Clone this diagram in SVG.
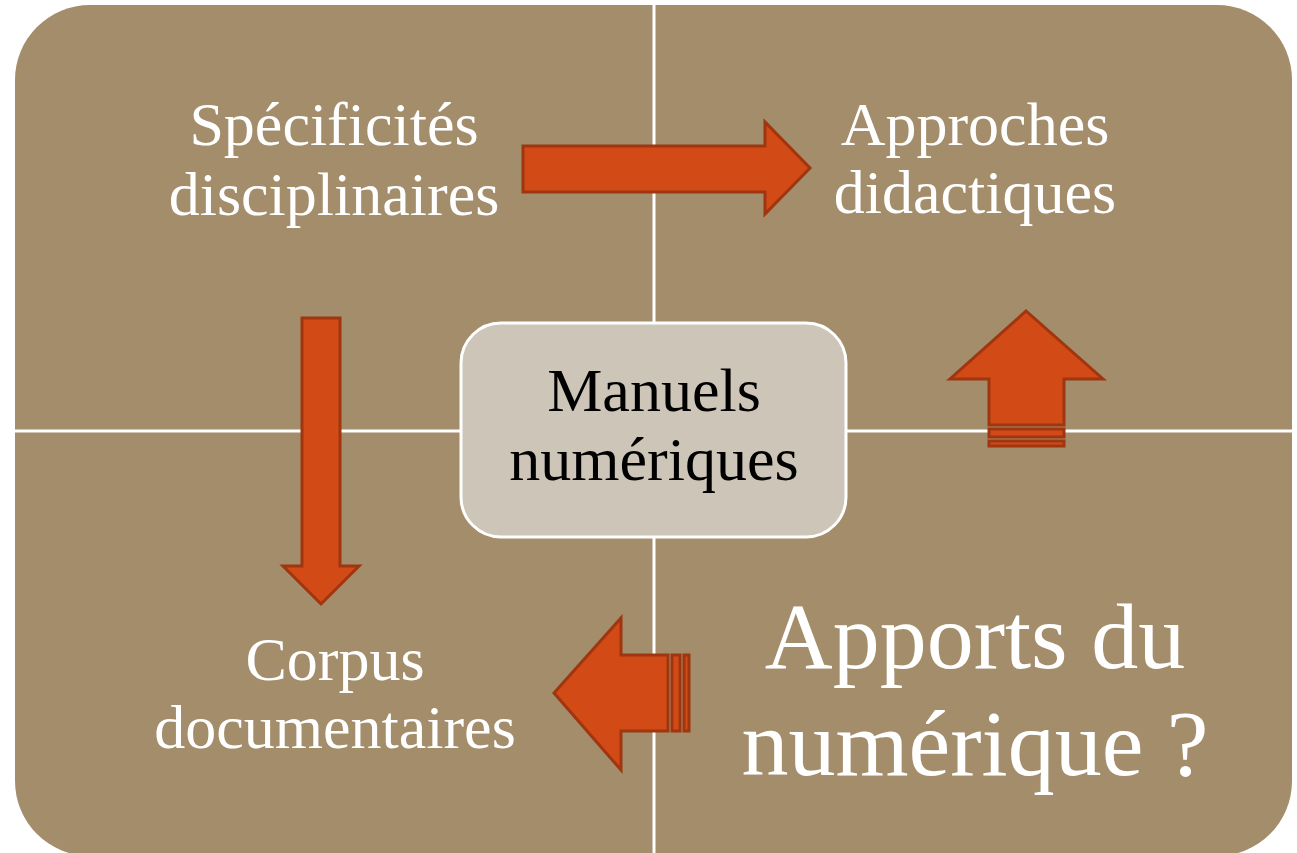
<svg xmlns="http://www.w3.org/2000/svg" width="1297" height="853" viewBox="0 0 1297 853">
<style>
.arrow{fill:#D24A16;stroke:#A0360F;stroke-width:3;stroke-linejoin:miter}
.lbl{font-family:"Liberation Serif",serif;fill:#fff;text-anchor:middle}
.ctr{font-family:"Liberation Serif",serif;fill:#000;text-anchor:middle}
.div{stroke:#fff;stroke-width:3}
</style>
<rect width="1297" height="853" fill="#fff"/>
<g id="background">
<rect x="15" y="5" width="1277" height="851" rx="75" ry="75" fill="#A38D6B"/>
<line class="div" x1="654" y1="5" x2="654" y2="853"/>
<line class="div" x1="15" y1="431" x2="1292" y2="431"/>
</g>
<g id="connectors">
<polygon class="arrow" points="523,146 765,146 765,122 810,168 765,214 765,192 523,192"/>
<polygon class="arrow" points="302,318 340,318 340,566 359,566 321,604 283,566 302,566"/>
<g>
<polygon class="arrow" points="989,425 989,379 950,379 1026,311 1103,379 1064,379 1064,425"/>
<rect class="arrow" x="989" y="429" width="75" height="8"/>
<rect class="arrow" x="989" y="441" width="75" height="5"/>
</g>
<g>
<polygon class="arrow" points="668,655 621,655 621,618 554,693 621,770 621,731 668,731"/>
<rect class="arrow" x="672" y="655" width="8" height="76"/>
<rect class="arrow" x="684" y="655" width="5" height="76"/>
</g>
</g>
<g id="specificites">
<text class="lbl" font-size="62" x="334" y="145">Spécificités</text>
<text class="lbl" font-size="62" x="334" y="215">disciplinaires</text>
</g>
<g id="approches">
<text class="lbl" font-size="62" x="975" y="145">Approches</text>
<text class="lbl" font-size="62" x="975" y="213">didactiques</text>
</g>
<g id="corpus">
<text class="lbl" font-size="62" x="335" y="680">Corpus</text>
<text class="lbl" font-size="62" x="335" y="748">documentaires</text>
</g>
<g id="apports">
<text class="lbl" font-size="94" x="975" y="668">Apports du</text>
<text class="lbl" font-size="94" x="975" y="775">numérique ?</text>
</g>
<g id="manuels">
<rect x="461" y="323" width="385" height="214" rx="40" ry="40" fill="#CDC5B8" stroke="#fff" stroke-width="3"/>
<text class="ctr" font-size="62" x="654" y="411">Manuels</text>
<text class="ctr" font-size="62" x="654" y="480">numériques</text>
</g>
</svg>
